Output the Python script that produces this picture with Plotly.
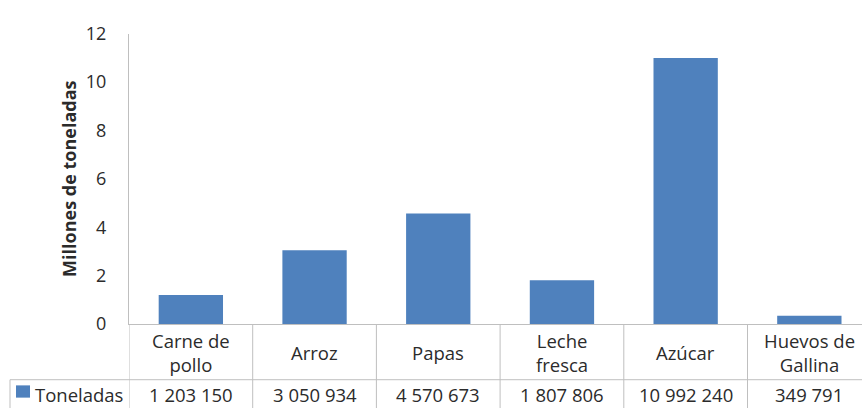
import plotly.graph_objects as go

# Production data (tonnes)
categories = ["Carne de<br>pollo", "Arroz", "Papas", "Leche<br>fresca", "Azúcar", "Huevos de<br>Gallina"]
toneladas = [1203150, 3050934, 4570673, 1807806, 10992240, 349791]
table_labels = ["1 203 150", "3 050 934", "4 570 673", "1 807 806", "10 992 240", "349 791"]
y_ticks = [0, 2, 4, 6, 8, 10, 12]

W, H = 862, 419
BAR = "#4f81bd"
GRID = "#bfbfbf"
FONT = "Open Sans"
TXT = "#2b2b2b"
FS = 18.5

def py(y):
    """pixel row (from top) -> paper y"""
    return (H - y) / H

def px(x):
    return x / W

millones = [v / 1e6 for v in toneladas]
xs = list(range(len(categories)))

fig = go.Figure()
fig.add_trace(go.Bar(x=xs, y=millones, marker_color=BAR, width=0.52,
                     marker_line_width=0, showlegend=False))

plot_top, plot_bot = 22, 330
row1_bot = 389
x_left = 129
cat_w = 123.7
x_end = -0.5 + (W - x_left) / cat_w

shapes = []
# vertical separators of the data table
for i in range(len(categories)):
    shapes.append(dict(type="line", xref="x", yref="paper", x0=i - 0.5, x1=i - 0.5,
                       y0=py(plot_bot), y1=0, line=dict(color=GRID, width=1)))
# horizontal line between label row and value row
shapes.append(dict(type="line", xref="paper", yref="paper", x0=px(10), x1=1,
                   y0=py(row1_bot), y1=py(row1_bot), line=dict(color=GRID, width=1)))
# left border of the legend cell
shapes.append(dict(type="line", xref="paper", yref="paper", x0=px(10), x1=px(10),
                   y0=py(row1_bot), y1=0, line=dict(color=GRID, width=1)))
# legend key
shapes.append(dict(type="rect", xref="paper", yref="paper", x0=px(16), x1=px(30),
                   y0=py(408), y1=py(395), fillcolor=BAR, line=dict(width=0)))

annotations = []
for i, (c, t) in enumerate(zip(categories, table_labels)):
    annotations.append(dict(x=i, y=py(360), xref="x", yref="paper",
                            text=c, showarrow=False, font=dict(size=FS, color=TXT, family=FONT),
                            xanchor="center", yanchor="middle"))
    annotations.append(dict(x=i, y=py(405), xref="x", yref="paper",
                            text=t, showarrow=False, font=dict(size=FS, color=TXT, family=FONT),
                            xanchor="center", yanchor="middle"))
annotations.append(dict(x=px(33), y=py(405), xref="paper", yref="paper", text="Toneladas",
                        showarrow=False, font=dict(size=FS, color=TXT, family=FONT),
                        xanchor="left", yanchor="middle"))
annotations.append(dict(x=px(69), y=py(176), xref="paper", yref="paper",
                        text="<b>Millones de toneladas</b>", textangle=-90, showarrow=False,
                        font=dict(size=18, color=TXT, family=FONT),
                        xanchor="center", yanchor="middle"))

fig.update_layout(
    width=W, height=H,
    margin=dict(l=0, r=0, t=0, b=0),
    paper_bgcolor="white", plot_bgcolor="white",
    font=dict(family=FONT, color=TXT),
    xaxis=dict(domain=[px(x_left), 1], range=[-0.5, x_end], showticklabels=False,
               showgrid=False, zeroline=False, showline=True, linecolor=GRID, linewidth=1,
               ticks=""),
    yaxis=dict(domain=[py(plot_bot), py(plot_top)], range=[0, 12], tickvals=y_ticks,
               showgrid=False, zeroline=False, showline=True, linecolor=GRID, linewidth=1,
               ticks="", ticklabelstandoff=18, tickfont=dict(size=18, color=TXT, family=FONT)),
    shapes=shapes, annotations=annotations,
    bargap=0.48,
)

fig.write_html("out.html")
